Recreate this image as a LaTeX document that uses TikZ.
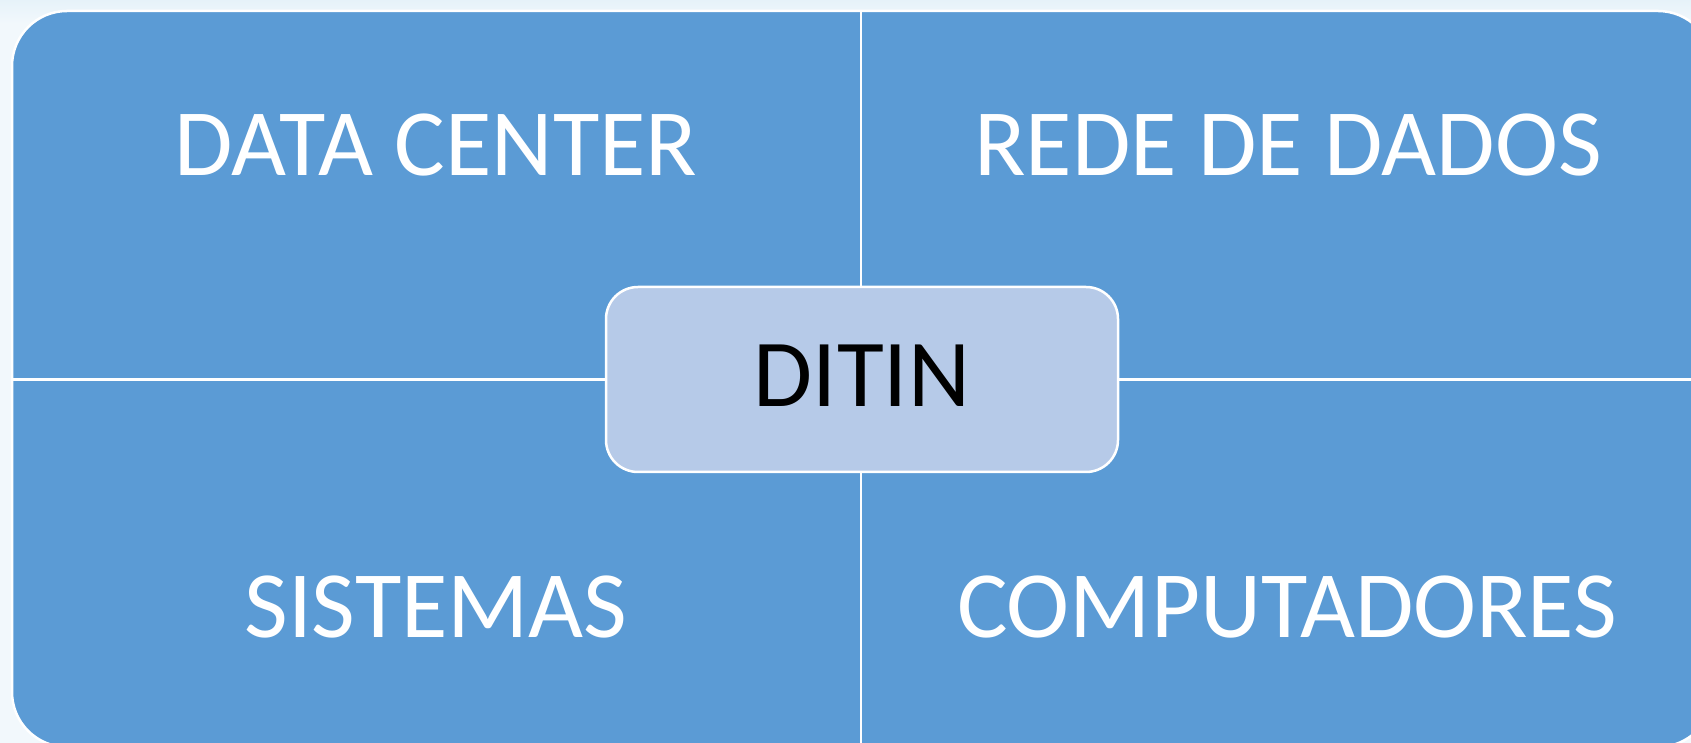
\documentclass[tikz,border=0pt]{standalone}
\usepackage{fontspec}
\setmainfont{Carlito}
\definecolor{bgc}{HTML}{F2F8FC}
\definecolor{bgtop}{HTML}{E6F2F9}
\definecolor{quadc}{HTML}{5B9BD5}
\definecolor{centc}{HTML}{B6CAE8}
\tikzset{
  quadtext/.style={text=white, font=\fontsize{95}{100}\selectfont, inner sep=0pt},
  centbox/.style={draw=white, line width=2.5pt, fill=centc, rounded corners=32pt,
    minimum width=512pt, minimum height=185pt, inner sep=0pt},
  divider/.style={draw=white, line width=2.5pt}
}
\begin{document}
\begin{tikzpicture}[x=1pt,y=1pt]
\useasboundingbox (0,0) rectangle (1691,743);
\fill[bgc] (0,0) rectangle (1691,743);
\fill[top color=bgtop, bottom color=bgc] (0,720) rectangle (1691,743);
% outer quadrant block
\path[fill=quadc, draw=white, line width=2.5pt, rounded corners=55pt] (12,-4) rectangle (1713,732);
\coordinate (vt) at (861,732);
\coordinate (vb) at (861,-4);
\coordinate (hl) at (12,363.5);
\coordinate (hr) at (1713,363.5);
\draw[divider] (vt) -- (vb);
\draw[divider] (hl) -- (hr);
% texts
\node[quadtext] (dc) at (436,598) {DATA CENTER};
\node[quadtext] (rd) at (1288,598) {REDE DE DADOS};
\node[quadtext] (si) at (436,136) {SISTEMAS};
\node[quadtext] (co) at (1287,136) {COMPUTADORES};
% center
\node[centbox] (box) at (862,363.5) {};
\node[text=black, font=\fontsize{96}{100}\selectfont, inner sep=0pt] (ditin) at (862,367) {DITIN};
\end{tikzpicture}
\end{document}
